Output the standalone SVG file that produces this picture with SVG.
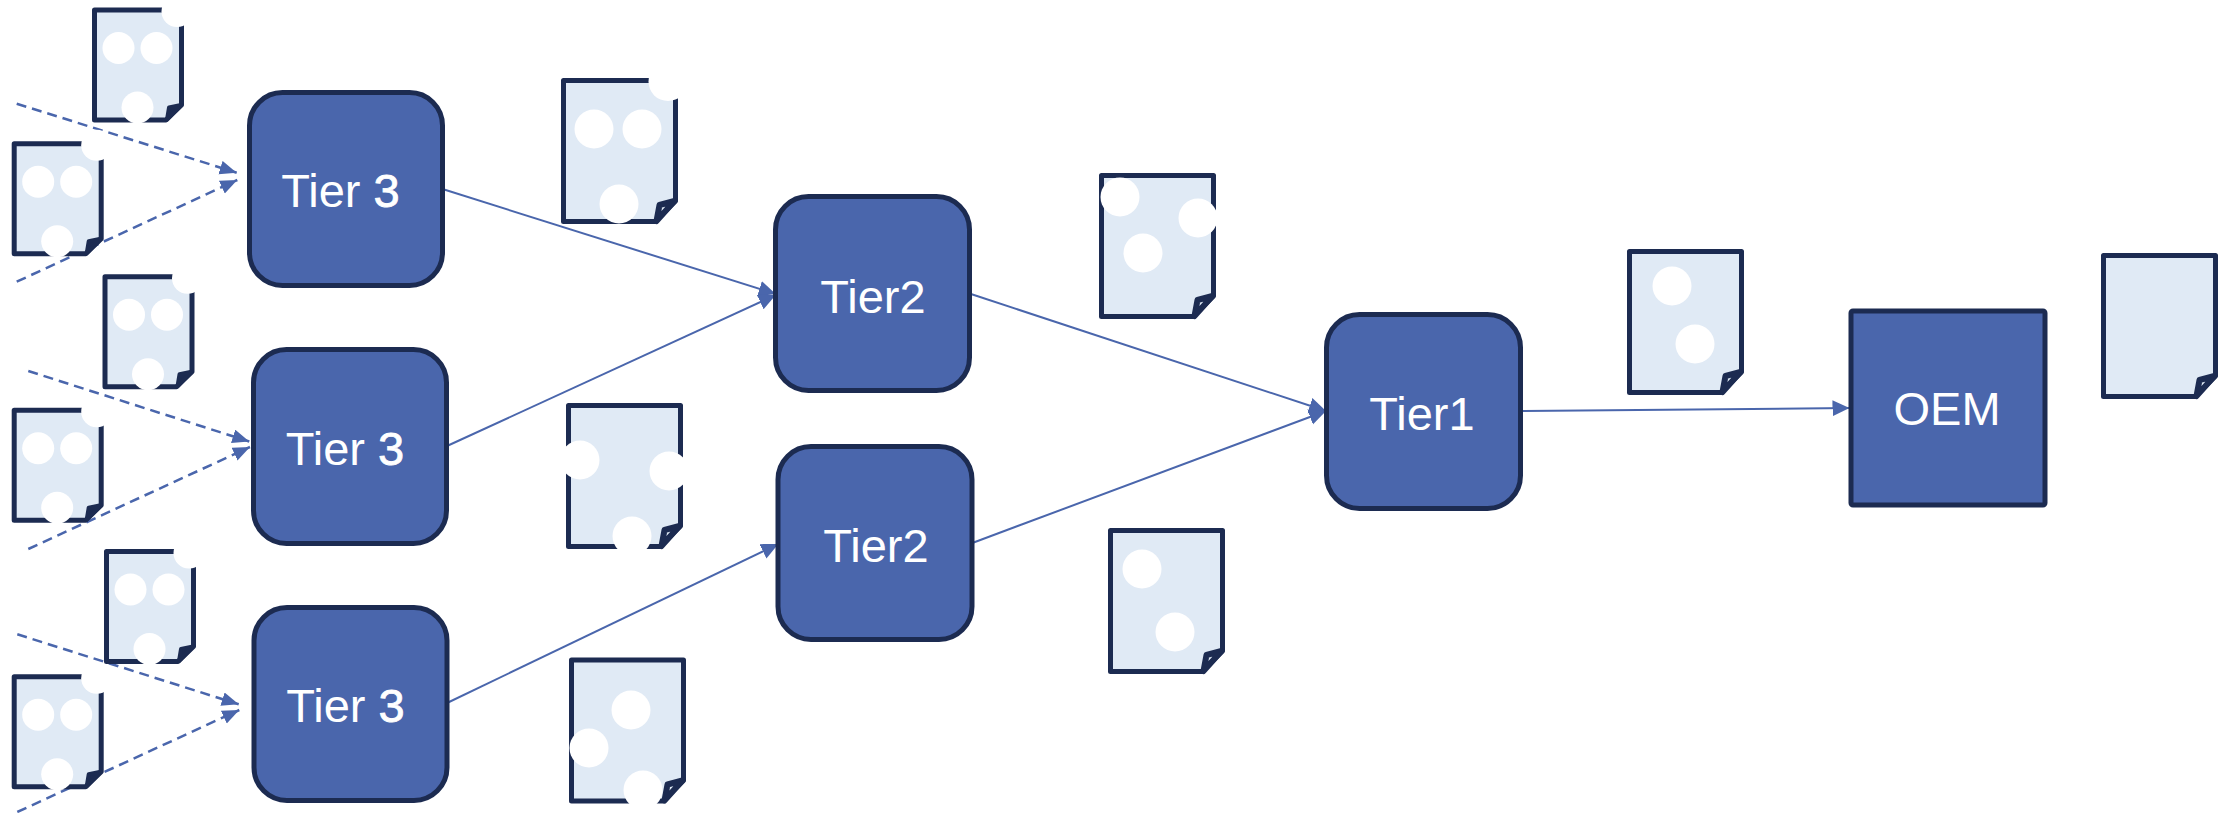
<svg xmlns="http://www.w3.org/2000/svg" width="2221" height="813" viewBox="0 0 2221 813">
<style>
.bg{fill:#fff}
.box{fill:#4A66AC;stroke:#1C2B51;stroke-width:5}
.lbl{font-family:"Liberation Sans",Arial,sans-serif;font-size:47px;fill:#fff;text-anchor:middle}
.bold3{stroke:#fff;stroke-width:.8}
.page{fill:#E0EAF5;stroke:#1C2B51;stroke-width:5;stroke-linejoin:round}
.foldL{fill:#E0EAF5;stroke:#1C2B51;stroke-width:6;stroke-linejoin:round}
.foldS{fill:#1C2B51;stroke:#1C2B51;stroke-width:4;stroke-linejoin:round}
.hole{fill:#fff}
.flow{fill:none;stroke:#4A66AC;stroke-width:2}
.dash{stroke-width:2.5;stroke-dasharray:10 6}
</style>
<defs>
<marker id="arrow" markerUnits="userSpaceOnUse" markerWidth="18" markerHeight="17" refX="17" refY="8" orient="auto">
<path d="M0,0L17,8L0,16Z" fill="#4A66AC"/>
</marker>
<marker id="arrowD" markerUnits="userSpaceOnUse" markerWidth="18" markerHeight="15" refX="17" refY="7" orient="auto">
<path d="M0,0L17,7L0,14Z" fill="#4A66AC"/>
</marker>
<g id="docL">
<path class="page" d="M2.5,2.5H114.5V123L94,143.5H2.5Z"/>
<path class="foldL" d="M95.5,143L98.5,127L113.5,123Z"/>
</g>
<g id="docS">
<path class="page" d="M2.5,2.5H89.5V97.5L74,112.5H2.5Z"/>
<path class="foldS" d="M75,112L77,100L89,97.5Z"/>
<circle class="hole" cx="26.5" cy="40.5" r="16"/>
<circle class="hole" cx="64.5" cy="40.5" r="16"/>
<circle class="hole" cx="45.5" cy="100" r="16"/>
<circle class="hole" cx="85" cy="4" r="15.5"/>
</g>
</defs>
<rect class="bg" width="2221" height="813"/>
<g id="connectors">
<path class="flow dash" marker-end="url(#arrowD)" d="M16.7,103.7L236.7,172.7"/>
<path class="flow dash" marker-end="url(#arrowD)" d="M16.7,281.7L237.3,180"/>
<path class="flow dash" marker-end="url(#arrowD)" d="M28.3,371L249.3,441.5"/>
<path class="flow dash" marker-end="url(#arrowD)" d="M28.3,549L250,447"/>
<path class="flow dash" marker-end="url(#arrowD)" d="M17.3,634.3L238.7,704.3"/>
<path class="flow dash" marker-end="url(#arrowD)" d="M17.3,812L239.3,710"/>
<path class="flow" marker-end="url(#arrow)" d="M443.3,189.3L775.7,294"/>
<path class="flow" marker-end="url(#arrow)" d="M447,446L775.7,295"/>
<path class="flow" marker-end="url(#arrow)" d="M447,703L778.3,544"/>
<path class="flow" marker-end="url(#arrow)" d="M971.7,294.3L1326,411"/>
<path class="flow" marker-end="url(#arrow)" d="M973,542.7L1326,411"/>
<path class="flow" marker-end="url(#arrow)" d="M1521,411L1849.5,408"/>
</g>
<g id="doc-t3a"><use href="#docS" x="92" y="7.5"/></g>
<g id="doc-t3b"><use href="#docS" x="11.7" y="141.3"/></g>
<g id="doc-t3c"><use href="#docS" x="102.5" y="274.3"/></g>
<g id="doc-t3d"><use href="#docS" x="11.7" y="407.7"/></g>
<g id="doc-t3e"><use href="#docS" x="104" y="549"/></g>
<g id="doc-t3f"><use href="#docS" x="11.7" y="674.3"/></g>
<g id="doc-t2a"><use href="#docL" x="561" y="78"/>
<circle class="hole" cx="594" cy="129" r="19.5"/><circle class="hole" cx="642" cy="129" r="19.5"/><circle class="hole" cx="619" cy="204" r="19.5"/><circle class="hole" cx="668" cy="81.6" r="19.5"/></g>
<g id="doc-t2b"><use href="#docL" x="566" y="403"/>
<circle class="hole" cx="580" cy="460" r="19.5"/><circle class="hole" cx="669" cy="471" r="19.5"/><circle class="hole" cx="632" cy="536" r="19.5"/></g>
<g id="doc-t2c"><use href="#docL" x="569" y="657.5"/>
<circle class="hole" cx="631" cy="710" r="19.5"/><circle class="hole" cx="589" cy="748" r="19.5"/><circle class="hole" cx="643" cy="790" r="19.5"/></g>
<g id="doc-t1a"><use href="#docL" x="1099" y="173"/>
<circle class="hole" cx="1120" cy="197" r="19.5"/><circle class="hole" cx="1198" cy="218" r="19.5"/><circle class="hole" cx="1143" cy="253" r="19.5"/></g>
<g id="doc-t1b"><use href="#docL" x="1108" y="528"/>
<circle class="hole" cx="1142" cy="569" r="19.5"/><circle class="hole" cx="1175" cy="632" r="19.5"/></g>
<g id="doc-oem"><use href="#docL" x="1627" y="249"/>
<circle class="hole" cx="1672" cy="286" r="19.5"/><circle class="hole" cx="1695" cy="344" r="19.5"/></g>
<g id="doc-final"><use href="#docL" x="2101" y="253"/></g>
<g id="tier3-1"><rect class="box" x="249.5" y="92.5" width="193" height="193" rx="33"/><text class="lbl" x="340.5" y="206.5">Tier <tspan class="bold3">3</tspan></text></g>
<g id="tier3-2"><rect class="box" x="253.5" y="349.5" width="193" height="194" rx="33"/><text class="lbl" x="345" y="464.5">Tier <tspan class="bold3">3</tspan></text></g>
<g id="tier3-3"><rect class="box" x="254" y="607.5" width="193" height="193" rx="33"/><text class="lbl" x="345.5" y="721.5">Tier <tspan class="bold3">3</tspan></text></g>
<g id="tier2-1"><rect class="box" x="775.5" y="196.5" width="194" height="194" rx="33"/><text class="lbl" x="873" y="313">Tier2</text></g>
<g id="tier2-2"><rect class="box" x="778" y="446.5" width="194" height="193" rx="33"/><text class="lbl" x="876" y="562">Tier2</text></g>
<g id="tier1"><rect class="box" x="1326.5" y="314.5" width="194" height="194" rx="33"/><text class="lbl" x="1422" y="430">Tier1</text></g>
<g id="oem"><rect class="box" x="1851" y="311" width="194" height="194" rx="2"/><text class="lbl" x="1947" y="425">OEM</text></g>
</svg>
